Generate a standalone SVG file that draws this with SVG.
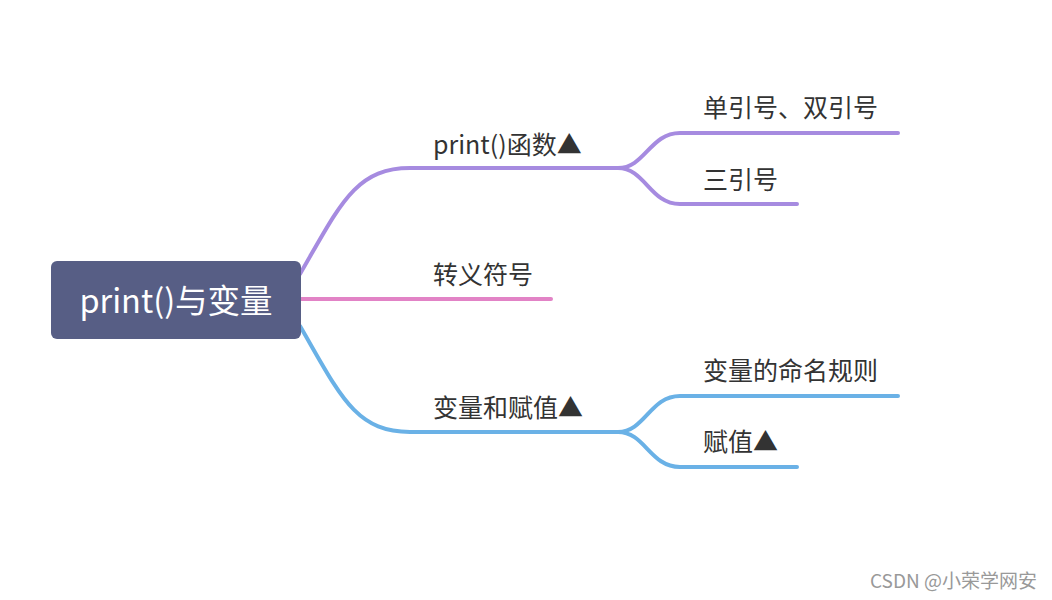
<svg xmlns="http://www.w3.org/2000/svg" width="1052" height="600" viewBox="0 0 1052 600">
<style>
.ln{fill:none;stroke-width:4;stroke-linecap:round;stroke-linejoin:round}
.p{stroke:#a68be0}.k{stroke:#e283c6}.b{stroke:#6ab1e6}
.t{font-family:"Noto Sans CJK SC","Noto Sans",sans-serif;font-size:25px;fill:#333}
.r{font-family:"Noto Sans CJK SC","Noto Sans",sans-serif;font-size:32.5px;fill:#fff}
.w{font-family:"Noto Sans CJK SC","Noto Sans",sans-serif;font-size:19px;fill:#999}
</style>
<rect width="1052" height="600" fill="#fff"/>
<g id="connectors">
<path class="ln p" d="M300 274 C340 205 355 168 410 168 L600 168"/>
<path class="ln p" d="M598 168 L618 168 C645 168 650 133 680 133 L898 133"/>
<path class="ln p" d="M598 168 L618 168 C645 168 650 204 680 204 L797 204"/>
<path class="ln k" d="M300 299 L551 299"/>
<path class="ln b" d="M300 326 C340 395 355 432 410 432 L600 432"/>
<path class="ln b" d="M598 432 L618 432 C645 432 650 396 680 396 L898 396"/>
<path class="ln b" d="M598 432 L618 432 C645 432 650 467 680 467 L797 467"/>
</g>
<g id="root">
<rect x="51" y="261" width="250" height="78" rx="6" fill="#575e85"/>
<text class="r" x="176" y="313" text-anchor="middle">print()与变量</text>
</g>
<g id="n-print"><text class="t" x="433" y="154">print()函数▲</text></g>
<g id="n-escape"><text class="t" x="433" y="284">转义符号</text></g>
<g id="n-var"><text class="t" x="433" y="417">变量和赋值▲</text></g>
<g id="n-quote"><text class="t" x="703" y="117">单引号、双引号</text></g>
<g id="n-triple"><text class="t" x="703" y="189">三引号</text></g>
<g id="n-naming"><text class="t" x="703" y="380">变量的命名规则</text></g>
<g id="n-assign"><text class="t" x="703" y="451">赋值▲</text></g>
<text class="w" x="1037" y="588" text-anchor="end">CSDN @小荣学网安</text>
</svg>
